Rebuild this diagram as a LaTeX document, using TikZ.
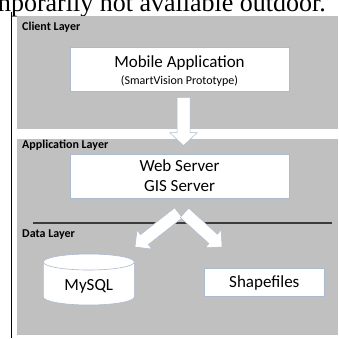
\documentclass[tikz,border=0pt]{standalone}
\usepackage{fontspec}
\setmainfont{Carlito}
\newfontfamily\pageserif{Liberation Serif}
\usetikzlibrary{calc}
\definecolor{layergray}{RGB}{192,192,192}
\definecolor{edgeblue}{RGB}{172,186,206}
\definecolor{rulegray}{RGB}{60,60,60}
\tikzset{
  layer/.style={fill=layergray, draw=none},
  box/.style={rectangle, fill=white, draw=edgeblue, line width=0.6pt, inner sep=0pt},
  layerlabel/.style={anchor=west, inner sep=0pt, font=\bfseries\fontsize{12}{14}\selectfont},
  bigtext/.style={inner sep=0pt, font=\fontsize{17}{20}\selectfont},
  smalltext/.style={inner sep=0pt, font=\fontsize{12}{14}\selectfont},
  arrowstyle/.style={fill=white, draw=edgeblue, line width=0.5pt, line join=miter},
  dbstyle/.style={fill=white, draw=edgeblue, line width=0.6pt},
}
% start, end, half shaft, half head, head length
\newcommand{\blockarr}[5]{%
  \coordinate (bah) at ($(#2)!#5!(#1)$);
  \filldraw[arrowstyle]
    ($(#1)!#3!90:(#2)$) -- ($(bah)!#3!90:(#2)$) -- ($(bah)!#4!90:(#2)$) -- (#2)
    -- ($(bah)!#4!-90:(#2)$) -- ($(bah)!#3!-90:(#2)$) -- ($(#1)!#3!-90:(#2)$) -- cycle;
}
\begin{document}
\begin{tikzpicture}[x=1pt, y=-1pt]
\useasboundingbox (0,0) rectangle (339,338);
\clip (0,0) rectangle (339,338);
\fill[white] (0,0) rectangle (339,338);
% page text and rule
\node[anchor=base east, inner sep=0pt, font=\pageserif\fontsize{26}{28}\selectfont] (pagetext) at (326,11.5) {temporarily not available outdoor.};
\draw[black, line width=1pt] (11.5,12) -- (11.5,338);
% layers
\fill[layer] (16.5,16) rectangle (338,129);
\fill[layer] (16.5,139) rectangle (338,335);
\node[layerlabel] (cl) at (22,27) {Client Layer};
\node[layerlabel] (al) at (22,145) {Application Layer};
\node[layerlabel] (dl) at (22,235) {Data Layer};
% separator
\draw[rulegray, line width=1.2pt] (33,223) -- (332,223);
% boxes
\node[box, minimum width=219pt, minimum height=44pt] (mob) at (179.5,69) {};
\node[bigtext] (mobt) at (179.5,63) {Mobile Application};
\node[smalltext] (mobs) at (179.5,81) {(SmartVision Prototype)};
\node[box, minimum width=219pt, minimum height=44pt, align=center, font=\fontsize{17}{20}\selectfont] (web) at (179.5,176) {Web Server\\GIS Server};
\node[box, minimum width=120pt, minimum height=28.5pt, font=\fontsize{17}{20}\selectfont] (shp) at (264.3,282.5) {Shapefiles};
% database cylinder
\filldraw[dbstyle] (43.3,262) -- (43.3,297) arc[start angle=180, end angle=0, x radius=45.5, y radius=8] -- (134.3,262) arc[start angle=0, end angle=-180, x radius=45.5, y radius=8] -- cycle;
\draw[dbstyle] (88.8,262) ellipse[x radius=45.5, y radius=8];
\node[bigtext] (db) at (88.8,286) {MySQL};
% arrows
\coordinate (a1s) at ($(mob.south)+(4,6)$);
\coordinate (a1e) at ($(web.north)+(4,-8)$);
\blockarr{a1s}{a1e}{6.5pt}{13.5pt}{13pt}
\coordinate (a2s) at ($(web.south)+(-1,14.5)$);
\coordinate (ltip) at (135,247);
\blockarr{a2s}{ltip}{6.3pt}{12pt}{12pt}
\coordinate (a3s) at ($(web.south)+(5,14.5)$);
\coordinate (rtip) at (222,247);
\blockarr{a3s}{rtip}{6.3pt}{12pt}{12pt}
\end{tikzpicture}
\end{document}
